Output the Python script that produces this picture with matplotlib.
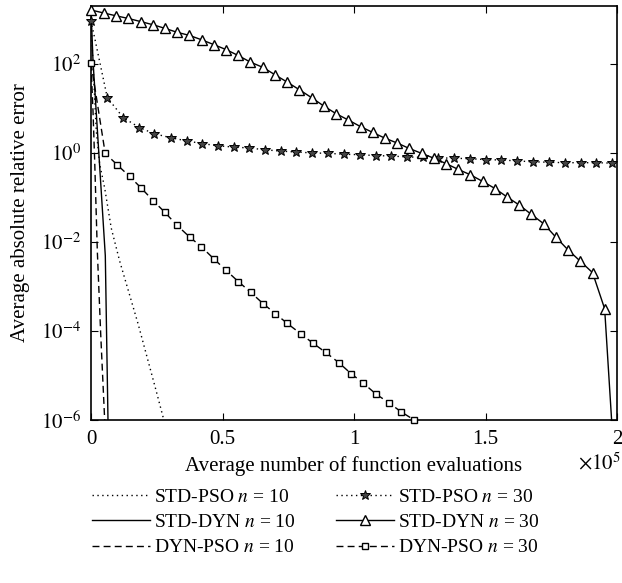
import numpy as np
import matplotlib
matplotlib.use("Agg")
import matplotlib.pyplot as plt

plt.rcParams['font.family'] = ['Liberation Serif', 'DejaVu Serif']
plt.rcParams['mathtext.fontset'] = 'stix'

# ---------------- data (x: function evaluations, y: log10 of error) ----------------
std_pso_10_x = [0, 1630, 2020, 3300, 5200, 7700, 10900, 17900, 24800, 27700]
std_pso_10_log = [2.97, 0.94, 0.49, -0.25, -0.79, -1.69, -2.43, -3.84, -5.35, -6.0]

std_dyn_10_x = [0, 760, 5440, 6460]
std_dyn_10_log = [3.24, 2.07, -2.31, -6.0]

dyn_pso_10_x = [0, 760, 1400, 2400, 3690, 5200]
dyn_pso_10_log = [2.0, 0.94, -0.18, -2.2, -4.07, -6.0]

std_pso_30_x = [0, 6200, 12300, 18400, 24100, 30400, 36400, 42200, 48300, 54400,
                60200, 66200, 72200, 78100, 83900, 90200, 96200, 102200, 108200, 114200,
                120100, 126100, 131900, 138000, 144000, 150100, 156000, 162100, 168200, 174000,
                180100, 186200, 192100, 198200]
std_pso_30_log = [2.97, 1.24, 0.79, 0.57, 0.43, 0.34, 0.27, 0.21, 0.16, 0.13,
                  0.11, 0.07, 0.04, 0.02, 0.0, -0.01, -0.03, -0.04, -0.06, -0.07,
                  -0.09, -0.10, -0.11, -0.12, -0.13, -0.15, -0.16, -0.18, -0.20, -0.21,
                  -0.22, -0.22, -0.22, -0.23]

std_dyn_30_x = [0, 5060, 9500, 14200, 18900, 23500, 28000, 32700, 37400, 42100,
                46800, 51400, 55900, 60600, 65400, 70100, 74600, 79200, 83900, 88600,
                93200, 97800, 102500, 107100, 111800, 116500, 121000, 125700, 130400, 135000,
                139600, 144200, 148900, 153600, 158200, 162800, 167400, 172100, 176700, 181400,
                186000, 190700, 195300, 197950]
std_dyn_30_log = [3.21, 3.14, 3.08, 3.02, 2.95, 2.88, 2.80, 2.71, 2.64, 2.54,
                  2.43, 2.32, 2.19, 2.04, 1.92, 1.75, 1.59, 1.42, 1.24, 1.05,
                  0.88, 0.74, 0.59, 0.46, 0.33, 0.22, 0.10, -0.01, -0.12, -0.24,
                  -0.37, -0.49, -0.64, -0.80, -0.99, -1.17, -1.38, -1.59, -1.89, -2.18,
                  -2.43, -2.69, -3.50, -6.0]

dyn_pso_30_x = [0, 5400, 10000, 14700, 19100, 23600, 28000, 32600, 37500, 42000,
                46700, 51400, 56000, 60700, 65500, 70100, 74600, 79700, 84300, 89200,
                94200, 98900, 103500, 108400, 113200, 118000, 122900]
dyn_pso_30_log = [2.02, -0.01, -0.27, -0.53, -0.79, -1.07, -1.33, -1.62, -1.89, -2.11,
                  -2.38, -2.64, -2.89, -3.13, -3.39, -3.61, -3.83, -4.06, -4.27, -4.48,
                  -4.71, -4.96, -5.17, -5.42, -5.61, -5.82, -6.0]

labels = ['STD-PSO $n$ = 10', 'STD-DYN $n$ = 10', 'DYN-PSO $n$ = 10',
          'STD-PSO $n$ = 30', 'STD-DYN $n$ = 30', 'DYN-PSO $n$ = 30']

x_ticks = [0, 50000, 100000, 150000, 200000]
x_tick_labels = ['0', '0.5', '1', '1.5', '2']
y_ticks = [1e-6, 1e-4, 1e-2, 1e0, 1e2]
y_tick_labels = [r'$10^{-6}$', r'$10^{-4}$', r'$10^{-2}$', r'$10^{0}$', r'$10^{2}$']

# ---------------- figure ----------------
W, H = 622, 583
fig = plt.figure(figsize=(W / 100, H / 100), dpi=100)
ax = fig.add_axes([91 / W, 1 - 420 / H, (617 - 91) / W, (420 - 6) / H])
ax.set_yscale('log')

def ten(v):
    return np.power(10.0, np.asarray(v, dtype=float))

lw = 1.0
dot = (0, (1, 2.5))
dash = (0, (5, 3))
h = []
h += ax.plot(std_pso_10_x, ten(std_pso_10_log), color='black', lw=lw, ls=dot)
h += ax.plot(std_dyn_10_x, ten(std_dyn_10_log), color='black', lw=lw, ls='-')
h += ax.plot(dyn_pso_10_x, ten(dyn_pso_10_log), color='black', lw=lw, ls=dash)
h += ax.plot(std_pso_30_x, ten(std_pso_30_log), color='black', lw=lw, ls=dot,
             marker='*', ms=7.5, mfc='#444444', mec='black', mew=0.7, clip_on=False)
h += ax.plot(std_dyn_30_x, ten(std_dyn_30_log), color='black', lw=lw, ls='-',
             marker='^', ms=7.5, mfc='white', mec='black', mew=1.0,
             markevery=slice(0, len(std_dyn_30_x) - 1), clip_on=False)
h += ax.plot(dyn_pso_30_x, ten(dyn_pso_30_log), color='black', lw=lw, ls=dash,
             marker='s', ms=4.6, mfc='white', mec='black', mew=1.0, clip_on=False)

ax.set_xlim(0, 200000)
ax.set_ylim(1e-6, 10 ** 3.3)
ax.set_xticks(x_ticks)
ax.set_xticklabels(x_tick_labels)
ax.set_yticks(y_ticks)
ax.set_yticklabels(y_tick_labels)
ax.minorticks_off()
ax.tick_params(direction='in', top=True, right=True, length=5, width=0.8,
               labelsize=15, pad=7)
for s in ax.spines.values():
    s.set_linewidth(1.2)
    s.set_zorder(1)

ax.set_xlabel('Average number of function evaluations', fontsize=15, labelpad=5)
ax.set_ylabel('Average absolute relative error', fontsize=15, labelpad=8)
fig.text(621 / W, 1 - 464 / H, r'$\times 10^{5}$', fontsize=15, ha='right', va='center')

leg = fig.legend(h, labels, ncol=2, loc='upper left',
                 bbox_to_anchor=(92 / W, 1 - 488 / H), frameon=False,
                 fontsize=14, handlelength=3.0, handletextpad=0.2,
                 columnspacing=2.05, labelspacing=0.4, numpoints=1,
                 borderpad=0, borderaxespad=0)

fig.savefig('out.png', dpi=100)
